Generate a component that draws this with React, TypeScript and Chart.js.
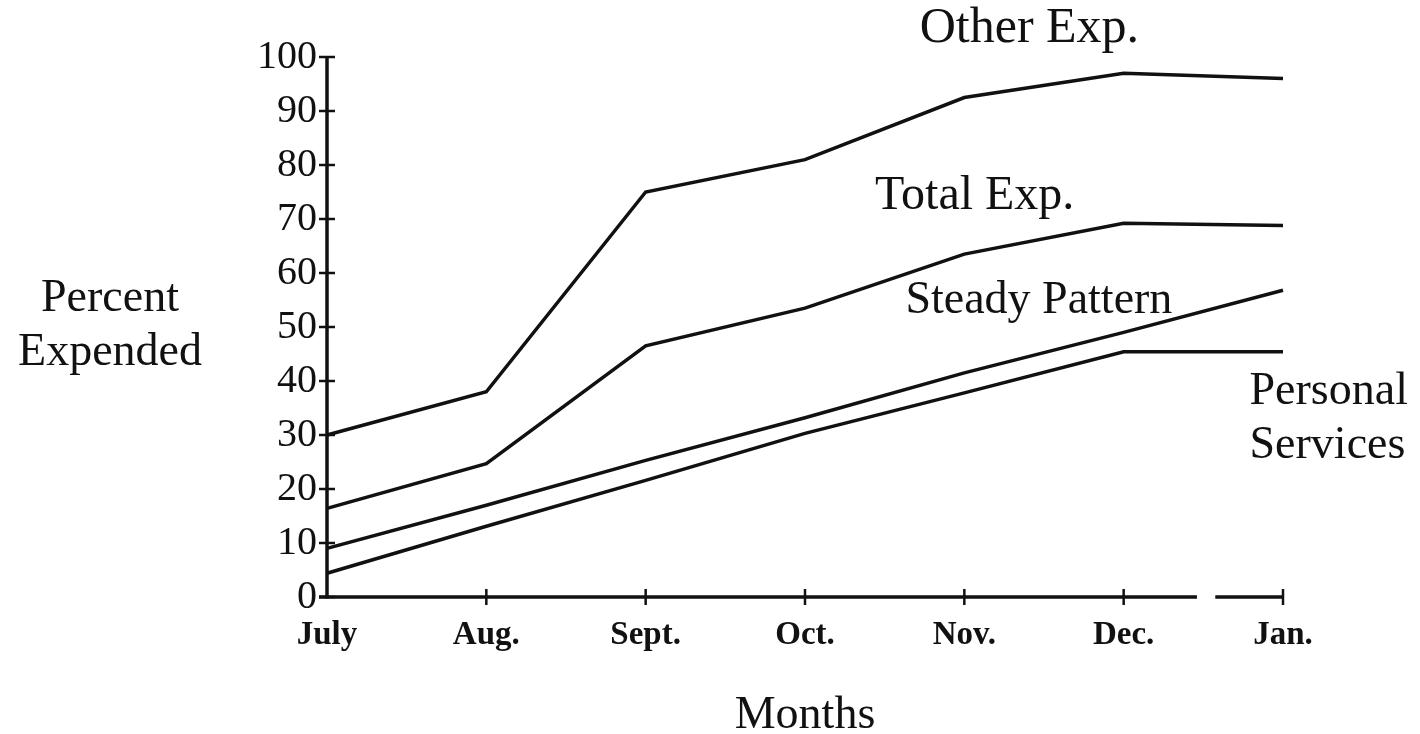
import React, { useEffect, useRef } from "react";
import { Chart, registerables } from "chart.js";

Chart.register(...registerables);

const months = ["July", "Aug.", "Sept.", "Oct.", "Nov.", "Dec.", "Jan."];
const otherExp = [30, 38, 75, 81, 92.5, 97, 96];
const totalExp = [16.4, 24.7, 46.5, 53.5, 63.5, 69.2, 68.8];
const steadyPattern = [9, 17, 25.3, 33.2, 41.5, 49, 56.8];
const personalServices = [4.4, 13.1, 21.6, 30.3, 37.8, 45.4, 45.4];
const yTicks = [0, 10, 20, 30, 40, 50, 60, 70, 80, 90, 100];

const SERIF = "'Liberation Serif', 'DejaVu Serif', serif";
const INK = "#111111";

const decorPlugin = {
  id: "decor",
  afterDraw(chart: any) {
    const ctx = chart.ctx as CanvasRenderingContext2D;
    const xs = chart.scales.x;
    const ys = chart.scales.y;
    const area = chart.chartArea;
    const x0 = area.left;
    const yBase = ys.getPixelForValue(0);
    const yTop = ys.getPixelForValue(100);
    ctx.save();
    ctx.strokeStyle = INK;
    ctx.lineWidth = 3.5;
    ctx.lineCap = "butt";
    // y axis
    ctx.beginPath();
    ctx.moveTo(x0, yBase + 1.5);
    ctx.lineTo(x0, yTop);
    ctx.stroke();
    ctx.lineWidth = 2.5;
    yTicks.forEach((v) => {
      const y = ys.getPixelForValue(v);
      ctx.beginPath();
      ctx.moveTo(x0 - 8, y);
      ctx.lineTo(x0 + 8, y);
      ctx.stroke();
    });
    // x axis with break between last two months
    const n = months.length;
    const pDec = xs.getPixelForValue(n - 2);
    const pJan = xs.getPixelForValue(n - 1);
    const g1 = pDec + (pJan - pDec) * 0.46;
    const g2 = pDec + (pJan - pDec) * 0.575;
    ctx.lineWidth = 3.5;
    ctx.beginPath();
    ctx.moveTo(x0 - 8, yBase);
    ctx.lineTo(g1, yBase);
    ctx.moveTo(g2, yBase);
    ctx.lineTo(pJan, yBase);
    ctx.stroke();
    ctx.lineWidth = 2.5;
    for (let i = 1; i < n; i++) {
      const x = xs.getPixelForValue(i);
      ctx.beginPath();
      ctx.moveTo(x, yBase - 8);
      ctx.lineTo(x, yBase + 8);
      ctx.stroke();
    }
    // annotations
    ctx.fillStyle = INK;
    ctx.textBaseline = "alphabetic";
    ctx.textAlign = "left";
    const step = xs.getPixelForValue(1) - xs.getPixelForValue(0);
    const put = (t: string, xi: number, yv: number, size: number) => {
      ctx.font = `${size}px ${SERIF}`;
      ctx.fillText(t, xs.getPixelForValue(0) + step * xi, ys.getPixelForValue(yv));
    };
    put("Other Exp.", 3.72, 102.8, 50);
    put("Total Exp.", 3.44, 71.8, 48);
    put("Steady Pattern", 3.63, 52.6, 46);
    put("Personal", 5.79, 35.8, 46);
    put("Services", 5.79, 25.8, 46);
    // axis titles
    ctx.font = `46px ${SERIF}`;
    ctx.textAlign = "center";
    ctx.fillText("Months", (area.left + area.right) / 2, yBase + 131);
    ctx.fillText("Percent", 110, ys.getPixelForValue(53));
    ctx.fillText("Expended", 110, ys.getPixelForValue(43));
    ctx.restore();
  },
};

export default function App() {
  const ref = useRef<HTMLCanvasElement | null>(null);
  useEffect(() => {
    if (!ref.current) return;
    const ds = (label: string, data: number[]) => ({
      label,
      data,
      borderColor: INK,
      borderWidth: 3.5,
      pointRadius: 0,
      tension: 0,
      fill: false,
    });
    const chart = new Chart(ref.current, {
      type: "line",
      data: {
        labels: months,
        datasets: [
          ds("Other Exp.", otherExp),
          ds("Total Exp.", totalExp),
          ds("Steady Pattern", steadyPattern),
          ds("Personal Services", personalServices),
        ],
      },
      options: {
        responsive: false,
        animation: false,
        layout: { padding: { top: 57, right: 137, left: 0, bottom: 0 } },
        plugins: { legend: { display: false }, tooltip: { enabled: false } },
        scales: {
          x: {
            type: "category",
            offset: false,
            grid: { display: false, drawTicks: false },
            border: { display: false },
            ticks: {
              color: INK,
              font: { family: SERIF, size: 33, weight: "bold" },
              padding: 19,
              maxRotation: 0,
              autoSkip: false,
            },
            afterFit: (s: any) => {
              s.height = 137;
            },
          },
          y: {
            min: 0,
            max: 100,
            grid: { display: false, drawTicks: false },
            border: { display: false },
            ticks: {
              stepSize: 10,
              color: INK,
              font: { family: SERIF, size: 40 },
              padding: 10,
            },
            afterFit: (s: any) => {
              s.width = 327;
            },
          },
        },
      },
      plugins: [decorPlugin],
    } as any);
    return () => chart.destroy();
  }, []);
  return (
    <div style={{ position: "fixed", left: 0, top: 0, width: 1420, height: 734, background: "#fff" }}>
      <canvas ref={ref} width={1420} height={734} style={{ display: "block" }} />
    </div>
  );
}
